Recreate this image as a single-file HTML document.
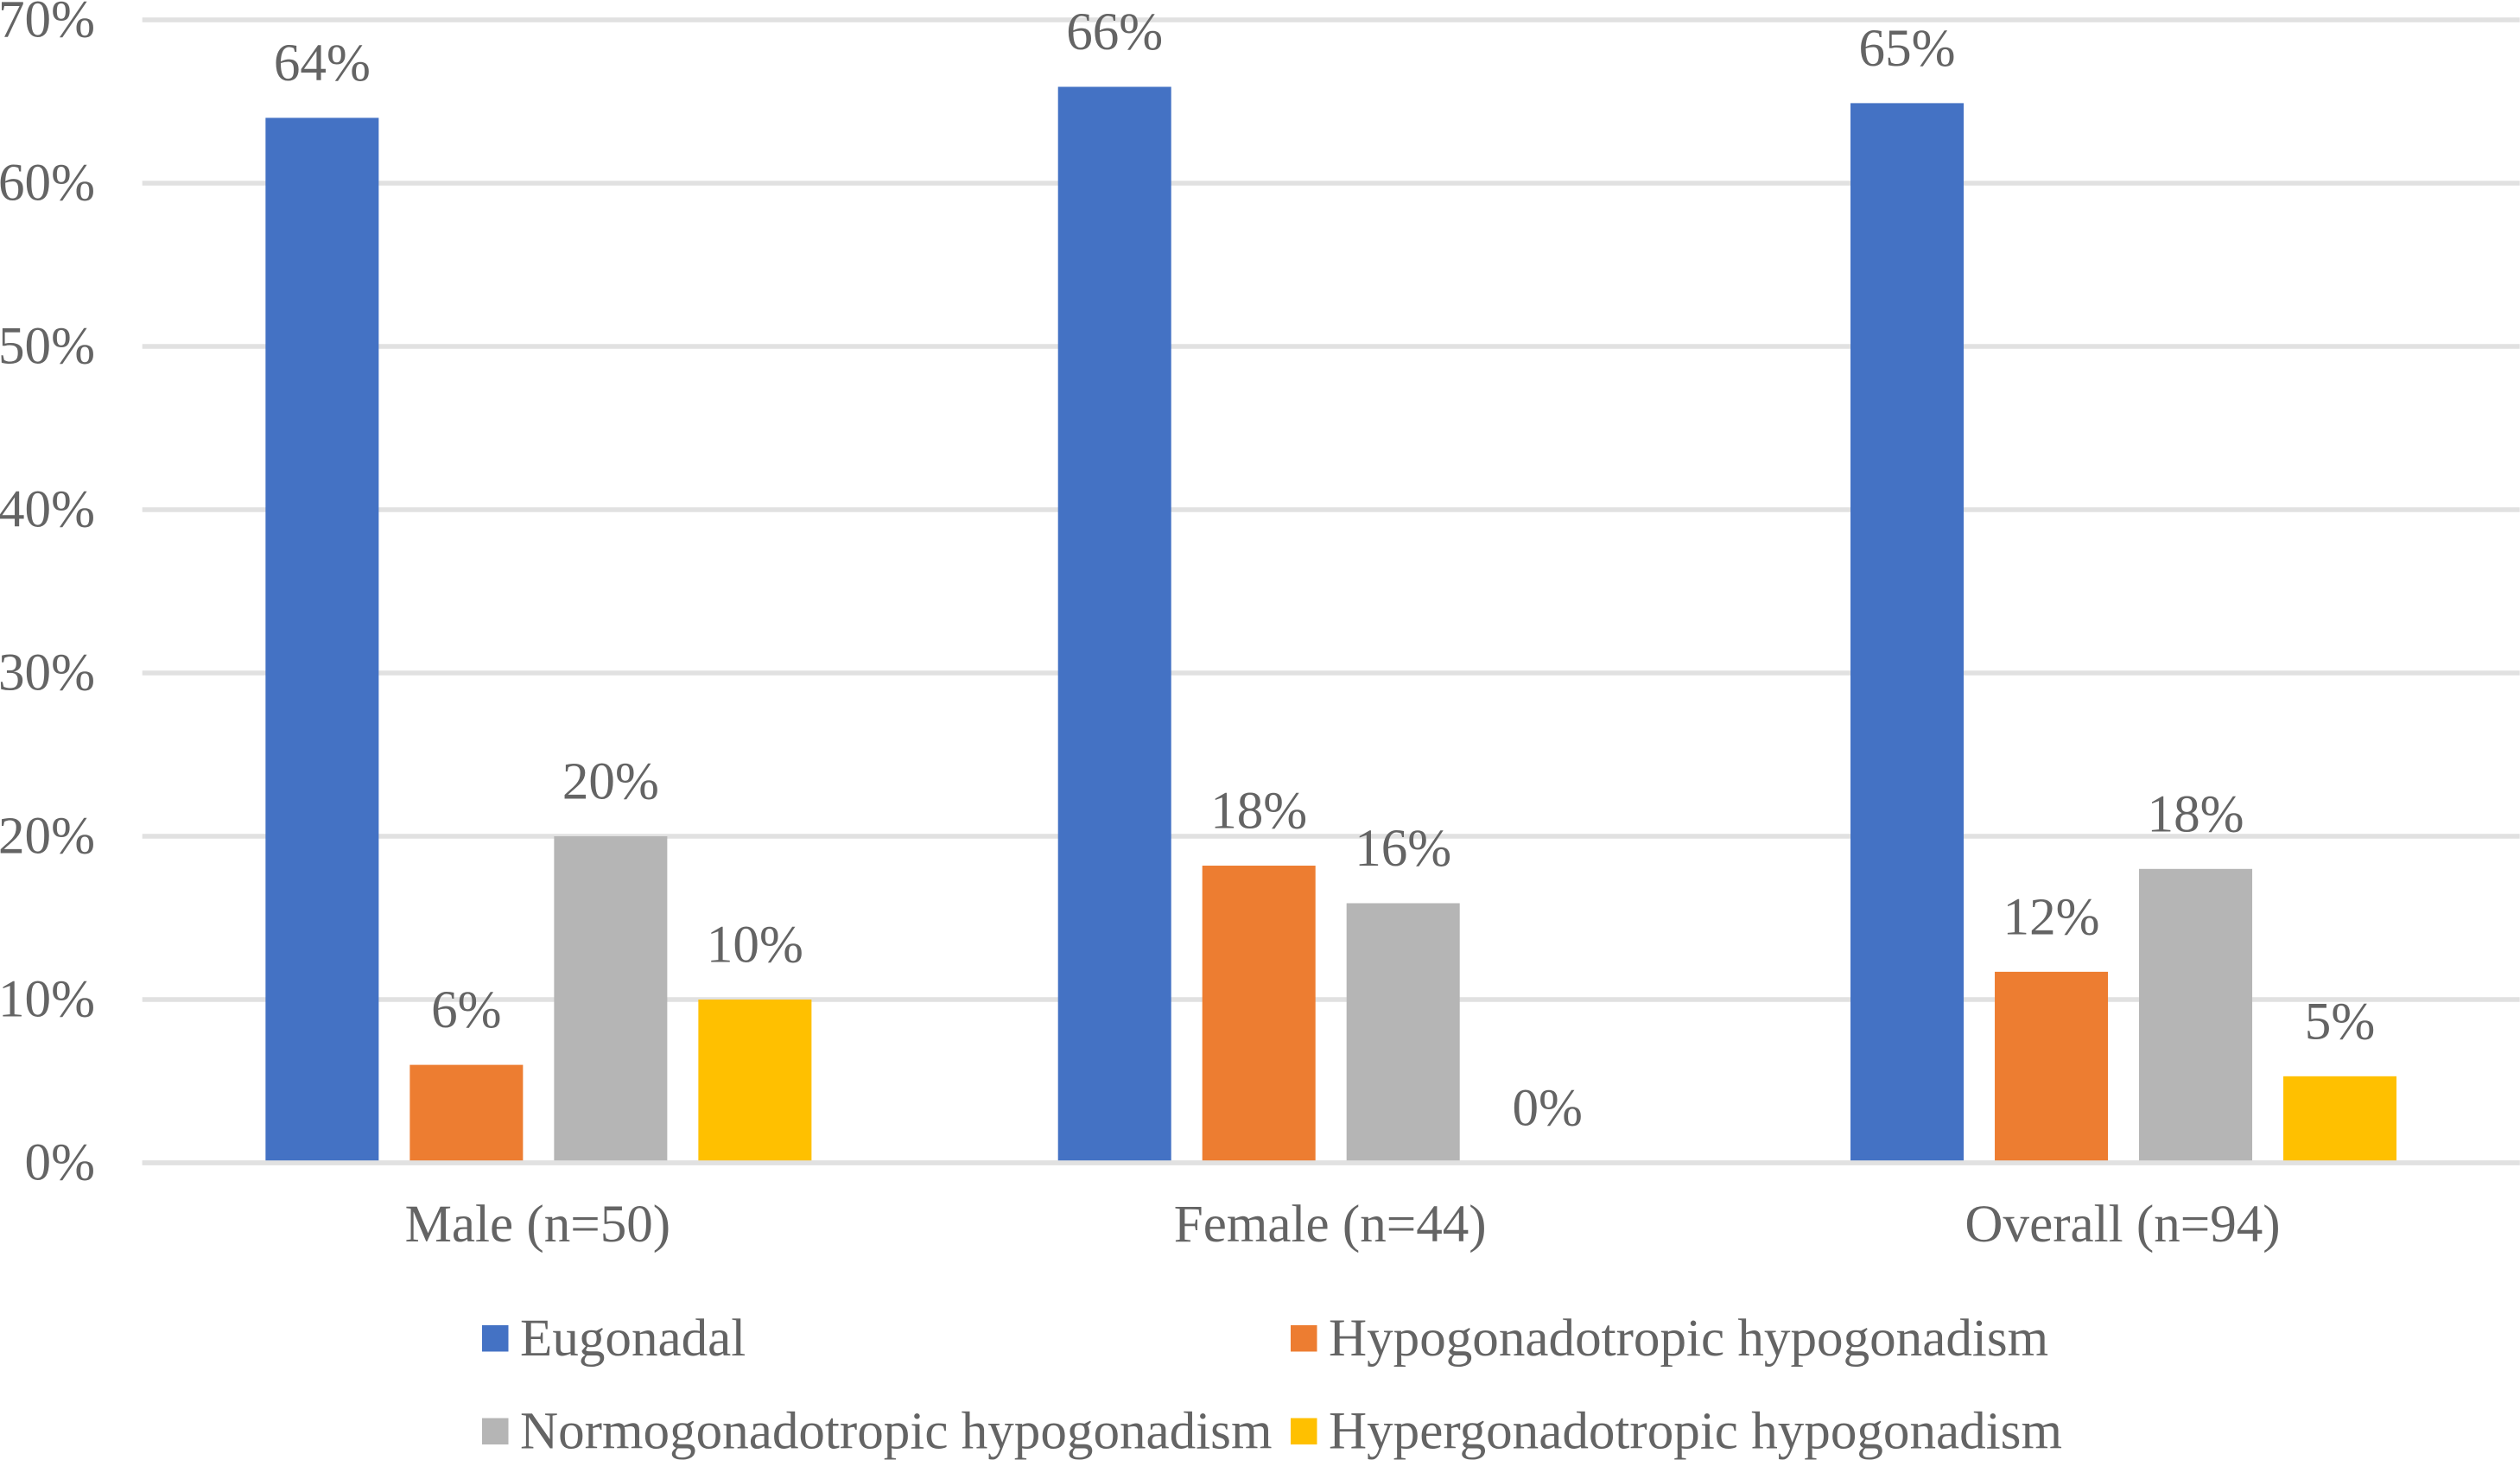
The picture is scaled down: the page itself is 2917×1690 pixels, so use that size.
<!DOCTYPE html>
<html lang="en">
<head>
<meta charset="utf-8">
<title>Gonadal status by sex</title>
<style>
  html, body { margin: 0; padding: 0; background: #fff; }
  body { width: 2917px; height: 1690px; overflow: hidden; }
  svg { display: block; }
  text { font-family: "Liberation Serif", serif; font-size: 61.1px; fill: #646464; }
</style>
</head>
<body>
<svg id="chart" xmlns="http://www.w3.org/2000/svg" width="2917" height="1690" viewBox="0 0 2917 1690">
  <rect x="0" y="0" width="2917" height="1690" fill="#ffffff"></rect>
  <g id="gridlines"></g>
  <g id="y-ticks"></g>
  <g id="bars"></g>
  <g id="baseline"></g>
  <g id="value-labels"></g>
  <g id="x-labels"></g>
  <g id="legend"></g>
</svg>
<script>
const categories = ["Male (n=50)", "Female (n=44)", "Overall (n=94)"];
const seriesNames = ["Eugonadal", "Hypogonadotropic hypogonadism", "Normogonadotropic hypogonadism", "Hypergonadotropic hypogonadism"];
const eugonadal = [64, 65.9, 64.9];
const hypogonadotropic = [6, 18.2, 11.7];
const normogonadotropic = [20, 15.9, 18];
const hypergonadotropic = [10, 0, 5.3];
const yTicks = [0, 10, 20, 30, 40, 50, 60, 70];

const seriesValues = [eugonadal, hypogonadotropic, normogonadotropic, hypergonadotropic];
const seriesColors = ["#4472c4", "#ed7d31", "#b5b5b5", "#ffc000"];

const NS = "http://www.w3.org/2000/svg";
const plotLeft = 164.7, plotRight = 2916.7, baseY = 1346, pxPerPercent = 18.9;
const bandWidth = (plotRight - plotLeft) / categories.length;
const barWidth = 131, barPitch = 167;

function yScale(v) { return baseY - v * pxPerPercent; }
function bandCenter(i) { return plotLeft + bandWidth * (i + 0.5); }
function barLeft(c, s) {
  const n = seriesValues.length;
  return bandCenter(c) - (barPitch * (n - 1) + barWidth) / 2 + s * barPitch;
}
function mk(parentId, tag, attrs, content) {
  const el = document.createElementNS(NS, tag);
  for (const k in attrs) el.setAttribute(k, attrs[k]);
  if (content !== undefined) el.textContent = content;
  document.getElementById(parentId).appendChild(el);
  return el;
}

yTicks.forEach(function (t) {
  const line = mk("gridlines", "line", { x1: plotLeft, x2: plotRight, y1: yScale(t), y2: yScale(t), stroke: "#e1e1e1", "stroke-width": 5.5 });
  
  
  const label = mk("y-ticks", "text", { x: 110, y: yScale(t) + 19.5, "text-anchor": "end" }, t + "%");
  
  
});

seriesValues.forEach(function (values, s) {
  values.forEach(function (v, c) {
    const x = barLeft(c, s);
    const top = yScale(v);
    if (v > 0) {
      const bar = mk("bars", "rect", { x: x, y: top, width: barWidth, height: baseY - top, fill: seriesColors[s] });
      
      
    }
    const valueLabel = mk("value-labels", "text", { x: x + barWidth / 2, y: top - 43.5, "text-anchor": "middle" }, Math.round(v) + "%");
    
    
  });
});

const axisLine = mk("baseline", "line", { x1: plotLeft, x2: plotRight, y1: baseY, y2: baseY, stroke: "#e1e1e1", "stroke-width": 5.5 });



categories.forEach(function (name, i) {
  const label = mk("x-labels", "text", { x: bandCenter(i) - 1, y: 1437, "text-anchor": "middle" }, name);
  
  
});

seriesNames.forEach(function (name, s) {
  const col = s % 2;
  const row = Math.floor(s / 2);
  const sx = col === 0 ? 558 : 1494;
  const sy = 1534 + row * 107.5;
  const swatch = mk("legend", "rect", { x: sx, y: sy, width: 30.5, height: 30.5, fill: seriesColors[s] });
  
  
  const label = mk("legend", "text", { x: sx + 44, y: sy + 35 }, name);
  
  
});
</script>
</body>
</html>
